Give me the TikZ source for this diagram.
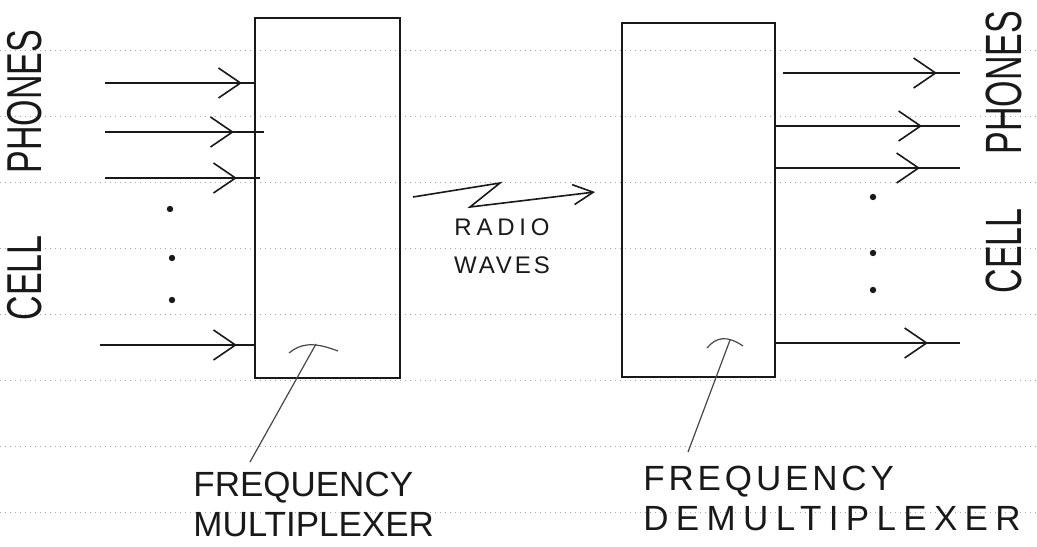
\documentclass[tikz,border=0pt]{standalone}
\usepackage{fontspec}
\setmainfont{Liberation Sans}
\usetikzlibrary{arrows.meta,decorations.markings}
\definecolor{pencil}{RGB}{25,25,25}
\definecolor{ruleGray}{RGB}{165,165,165}

\tikzset{
  blockbox/.style={draw=pencil, line width=1.1pt, inner sep=0pt},
  feed/.style={pencil, line width=0.8pt, postaction=decorate,
    decoration={markings, mark=at position -#1 with
      {\arrow[line width=0.8pt]{Straight Barb[length=11pt,width=15pt]}}}},
  pointer/.style={pencil!80, line width=0.6pt},
  wave/.style={pencil, line width=0.8pt, -{Straight Barb[length=10pt,width=10pt]}},
  paperrule/.style={ruleGray, line width=0.5pt, dotted},
  hand/.style={pencil, inner sep=0pt}
}

\begin{document}
\begin{tikzpicture}[x=0.5pt, y=-0.5pt]
\useasboundingbox (0,0) rectangle (1037,546);
% lined paper
\foreach \y in {50,116,...,512}
  \draw[paperrule] (0,\y) -- (1037,\y);

% the two boxes
\node[blockbox, minimum width=72.5pt, minimum height=180pt] (mux) at (327.5,198) {};
\node[blockbox, minimum width=76.5pt, minimum height=177pt] (demux) at (698.5,200) {};

% phones in
\coordinate (in1) at (105,83);
\coordinate (in2) at (105,132);
\coordinate (in3) at (105,178);
\coordinate (in4) at (100,345);
\draw[feed=6pt] (in1) -- (in1 -| mux.west);
\draw[feed=15pt] (in2) -- ([xshift=5pt]in2 -| mux.west);
\draw[feed=11.5pt] (in3) -- ([xshift=3pt]in3 -| mux.west);
\draw[feed=8.5pt] (in4) -- (in4 -| mux.west);
\foreach \p in {(170,209),(172,258),(172,300)}
  \fill[pencil] \p circle (1.6pt);

% phones out
\coordinate (out1) at (960,73);
\coordinate (out2) at (960,126);
\coordinate (out3) at (960,168);
\coordinate (out4) at (960,343);
\draw[feed=11.5pt] ([xshift=3.5pt]out1 -| demux.east) -- (out1);
\draw[feed=19pt] (out2 -| demux.east) -- (out2);
\draw[feed=20pt] (out3 -| demux.east) -- (out3);
\draw[feed=16pt] (out4 -| demux.east) -- (out4);
\foreach \p in {(873,197),(873,253),(873,290)}
  \fill[pencil] \p circle (1.6pt);

% radio link
\coordinate (wv0) at (413,197);
\coordinate (wv1) at (500,183);
\coordinate (wv2) at (470,207);
\coordinate (wv3) at (595,192);
\draw[wave] (wv0) -- (wv1) -- (wv2) -- (wv3);
\node[hand, align=center, font=\fontsize{12}{19}\selectfont] (radiolbl) at (502,246)
  {\addfontfeatures{LetterSpace=20}RADIO\\\addfontfeatures{LetterSpace=12}WAVES};

% side labels
\node[hand, rotate=90, font=\fontsize{17}{17}\selectfont] (phonesL) at (25,175)
  {\scalebox{1}[1.44]{CELL\hspace{31pt}PHONES}};
\node[hand, rotate=90, font=\fontsize{17}{17}\selectfont] (phonesR) at (1004,152)
  {\scalebox{1}[1.5]{CELL\hspace{27pt}PHONES}};

% box captions and pointers
\node[hand, anchor=north west, align=left, font=\fontsize{17.5}{20}\selectfont] (muxlbl) at (193,472)
  {FREQUENCY\\MULTIPLEXER};
\node[hand, anchor=north west, align=left, font=\fontsize{17.5}{20}\selectfont] (demuxlbl) at (643,466)
  {\addfontfeatures{LetterSpace=11}FREQUENCY\\\addfontfeatures{LetterSpace=21}DEMULTIPLEXER};
\coordinate (muxtip) at (316,344);
\coordinate (muxfoot) at (250,462);
\draw[pointer] (muxfoot) -- (muxtip);
\draw[pointer] (289,353) .. controls (300,344) and (312,341) .. (338,351);
\coordinate (demuxtip) at (730,340);
\coordinate (demuxfoot) at (688,452);
\draw[pointer] (demuxfoot) -- (demuxtip);
\draw[pointer] (707,348) .. controls (716,337) and (727,335) .. (743,346);
\end{tikzpicture}
\end{document}
